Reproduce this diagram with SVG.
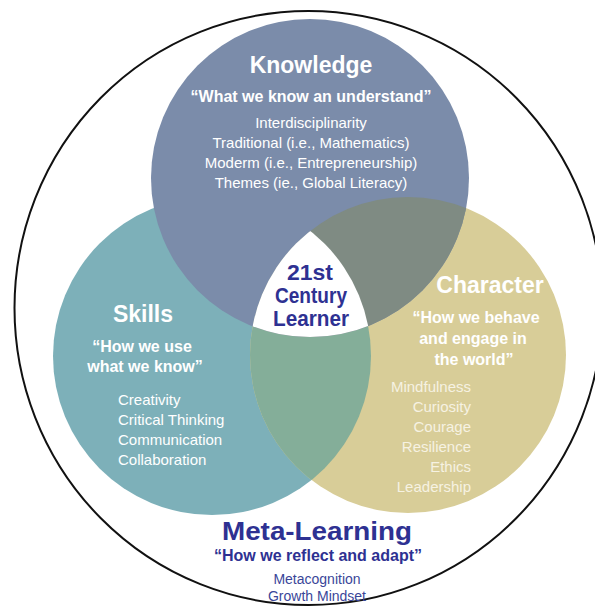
<svg xmlns="http://www.w3.org/2000/svg" width="595" height="607" viewBox="0 0 595 607">
<style>
text{font-family:"Liberation Sans",Arial,sans-serif;}
.w{fill:#ffffff;}
.t{font-weight:bold;font-size:23px;}
.q{font-weight:bold;font-size:16px;}
.l{font-size:15px;}
.b{fill:#2e3192;}
.m{text-anchor:middle;}
.e{text-anchor:end;}
</style>
<defs>
<clipPath id="clipS"><circle cx="212" cy="356" r="159"/></clipPath>
<clipPath id="clipC"><circle cx="408" cy="355" r="158"/></clipPath>
</defs>
<rect width="595" height="607" fill="#ffffff"/>
<g id="node-meta">
<ellipse cx="308.5" cy="308" rx="294" ry="297" fill="none" stroke="#111111" stroke-width="2"/>
<text class="b m" x="317" y="540" font-weight="bold" font-size="26" textLength="190" lengthAdjust="spacingAndGlyphs">Meta-Learning</text>
<text class="b m q" x="318" y="561" textLength="208" lengthAdjust="spacingAndGlyphs">“How we reflect and adapt”</text>
<text class="m" x="317" y="584" font-size="14" fill="#3a4699">Metacognition</text>
<text class="m" x="317" y="601" font-size="14" fill="#3a4699">Growth Mindset</text>
</g>
<g id="node-skills">
<circle cx="212" cy="356" r="159" fill="#7db0b9"/>
</g>
<g id="node-character">
<circle cx="408" cy="355" r="158" fill="#d8cd98"/>
<circle cx="212" cy="356" r="159" fill="#84ae99" clip-path="url(#clipC)"/>
</g>
<g id="node-knowledge">
<circle cx="310" cy="178" r="159" fill="#7b8caa"/>
<circle cx="310" cy="178" r="159" fill="#7f8b83" clip-path="url(#clipC)"/>
</g>
<g id="node-center">
<g clip-path="url(#clipS)"><circle cx="310" cy="178" r="159" fill="#ffffff" clip-path="url(#clipC)"/></g>
<text class="b m" x="310" y="280" font-weight="bold" font-size="22" textLength="46" lengthAdjust="spacingAndGlyphs">21st</text>
<text class="b m" x="311" y="303" font-weight="bold" font-size="22" textLength="72" lengthAdjust="spacingAndGlyphs">Century</text>
<text class="b m" x="311" y="326" font-weight="bold" font-size="22" textLength="76" lengthAdjust="spacingAndGlyphs">Learner</text>
</g>
<g id="labels-knowledge" class="w">
<text class="t m w" x="311" y="73">Knowledge</text>
<text class="q m w" x="311" y="102">“What we know an understand”</text>
<text class="l m w" x="311" y="128">Interdisciplinarity</text>
<text class="l m w" x="311" y="148">Traditional (i.e., Mathematics)</text>
<text class="l m w" x="311" y="168">Moderm (i.e., Entrepreneurship)</text>
<text class="l m w" x="311" y="188">Themes (ie., Global Literacy)</text>
</g>
<g id="labels-skills">
<text class="t m w" x="143" y="322">Skills</text>
<text class="q m w" x="142" y="352">“How we use</text>
<text class="q m w" x="145" y="372">what we know”</text>
<text class="l w" x="118" y="405">Creativity</text>
<text class="l w" x="118" y="425">Critical Thinking</text>
<text class="l w" x="118" y="445">Communication</text>
<text class="l w" x="118" y="465">Collaboration</text>
</g>
<g id="labels-character">
<text class="t m w" x="490" y="293">Character</text>
<text class="q m w" x="476" y="323">“How we behave</text>
<text class="q m w" x="473" y="344">and engage in</text>
<text class="q m w" x="474" y="365">the world”</text>
<text class="l e" x="471" y="392" fill="#f6f2e2">Mindfulness</text>
<text class="l e" x="471" y="412" fill="#f6f2e2">Curiosity</text>
<text class="l e" x="471" y="432" fill="#f6f2e2">Courage</text>
<text class="l e" x="471" y="452" fill="#f6f2e2">Resilience</text>
<text class="l e" x="471" y="472" fill="#f6f2e2">Ethics</text>
<text class="l e" x="471" y="492" fill="#f6f2e2">Leadership</text>
</g>
</svg>
